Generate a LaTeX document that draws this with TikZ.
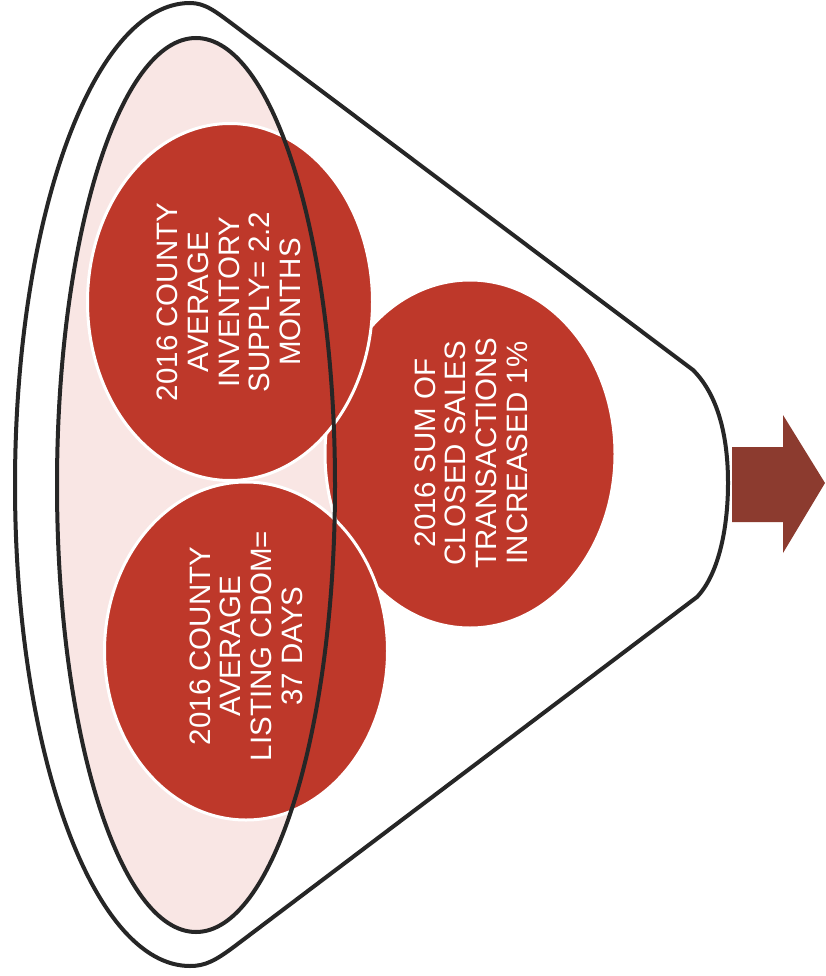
\documentclass[tikz,border=0pt]{standalone}
\usepackage{fontspec}
\setmainfont{Liberation Sans}
\usetikzlibrary{shapes.geometric}
\definecolor{ballred}{RGB}{190,56,42}
\definecolor{pinkfill}{RGB}{249,230,228}
\definecolor{arrowbrown}{RGB}{140,59,47}
\definecolor{linegray}{RGB}{38,38,38}
\tikzset{
  ball/.style={ellipse, fill=ballred, draw=white, line width=3pt, inner sep=0pt},
  balltext/.style={rotate=90, text=white, align=center, font=\fontsize{29.5}{30.7}\selectfont, inner sep=0pt},
  funnelline/.style={draw=linegray, line width=4pt, line join=round}
}
\begin{document}
\begin{tikzpicture}[x=1pt,y=-1pt]
\useasboundingbox[fill=white] (0,0) rectangle (825,976);
% outer funnel
\path[funnelline, fill=white]
  (693,370) -- (235,26)
  .. controls (215,11) and (205,3) .. (190,3)
  .. controls (93,3) and (15,219) .. (15,485)
  .. controls (15,751) and (93,966) .. (190,966)
  .. controls (205,966) and (215,961) .. (235,946)
  -- (697,597)
  .. controls (718,575) and (728,530) .. (728,483)
  .. controls (728,436) and (718,395) .. (693,370) -- cycle;
% inner ellipse fill
\fill[pinkfill] (196,485) ellipse [x radius=139, y radius=447];
% balls
\node[ball, minimum width=290pt, minimum height=348pt] (c3) at (470,454) {};
\node[ball, minimum width=285pt, minimum height=357pt] (c1) at (230,302) {};
\node[ball, minimum width=283pt, minimum height=338pt] (c2) at (246,651) {};
% inner ellipse line
\draw[funnelline] (196,485) ellipse [x radius=139, y radius=447];
% texts
\node[balltext] (t1) at (229,302) {2016 COUNTY\\AVERAGE\\INVENTORY\\SUPPLY= 2.2\\MONTHS};
\node[balltext] (t2) at (246,646) {2016 COUNTY\\AVERAGE\\LISTING CDOM=\\37 DAYS};
\node[balltext] (t3) at (471,453) {2016 SUM OF\\CLOSED SALES\\TRANSACTIONS\\INCREASED 1\%};
% arrow
\fill[arrowbrown] (732,447) -- (783,447) -- (783,415) -- (825,483) -- (783,553) -- (783,522) -- (732,522) -- cycle;
\end{tikzpicture}
\end{document}
